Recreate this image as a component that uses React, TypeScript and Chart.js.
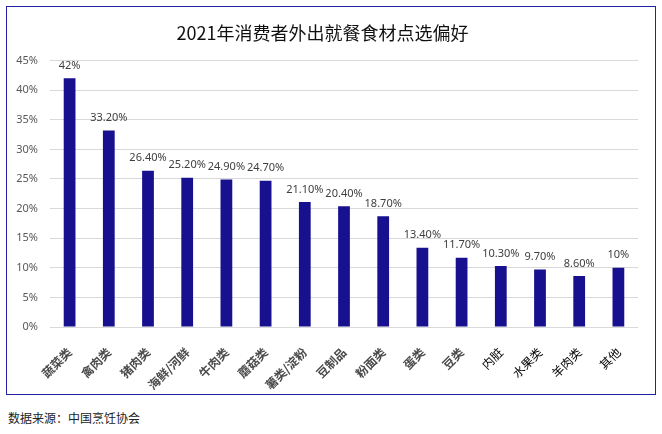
import { useEffect, useRef } from "react";
import { Chart, registerables, type ChartConfiguration } from "chart.js";

Chart.register(...registerables);

const TITLE = "2021年消费者外出就餐食材点选偏好";
const SOURCE = "数据来源：中国烹饪协会";

const CATEGORIES = [
  "蔬菜类",
  "禽肉类",
  "猪肉类",
  "海鲜/河鲜",
  "牛肉类",
  "蘑菇类",
  "薯类/淀粉",
  "豆制品",
  "粉面类",
  "蛋类",
  "豆类",
  "内脏",
  "水果类",
  "羊肉类",
  "其他",
];

// 百分比
const VALUES = [42, 33.2, 26.4, 25.2, 24.9, 24.7, 21.1, 20.4, 18.7, 13.4, 11.7, 10.3, 9.7, 8.6, 10];

const Y_MAX = 45;
const Y_STEP = 5;

const BAR_COLOR = "#17108f";
const CJK = '"Noto Sans CJK SC", "Noto Sans", sans-serif';

function fmt(v: number) {
  return Number.isInteger(v) ? `${v}%` : `${v.toFixed(2)}%`;
}

// 柱顶数值标签
const valueLabels = {
  id: "valueLabels",
  afterDatasetsDraw(chart: Chart) {
    const { ctx } = chart;
    const meta = chart.getDatasetMeta(0);
    ctx.save();
    ctx.font = '11px "Noto Sans", sans-serif';
    ctx.fillStyle = "#404040";
    ctx.textAlign = "center";
    ctx.textBaseline = "bottom";
    meta.data.forEach((bar: any, i: number) => {
      ctx.fillText(fmt(VALUES[i]), bar.x, bar.y - 7);
    });
    ctx.restore();
  },
};

function buildConfig(): ChartConfiguration<"bar"> {
  return {
    type: "bar",
    data: {
      labels: CATEGORIES,
      datasets: [
        {
          data: VALUES,
          backgroundColor: BAR_COLOR,
          barPercentage: 0.6,
          categoryPercentage: 0.5,
        },
      ],
    },
    options: {
      responsive: false,
      animation: false,
      layout: { padding: { left: 0, right: 16, top: 0, bottom: 0 } },
      plugins: {
        legend: { display: false },
        tooltip: { enabled: false },
        title: {
          display: true,
          text: TITLE,
          color: "#111111",
          font: { family: CJK, size: 18, weight: "normal" },
          padding: { top: 15, bottom: 17 },
        },
      },
      scales: {
        x: {
          grid: { display: false },
          border: { display: false },
          ticks: {
            minRotation: 45,
            maxRotation: 45,
            autoSkip: false,
            padding: 10,
            color: (c: any) => (c.index >= 11 ? "#000000" : "#4a4a4a"),
            font: (c: any) => ({
              family: CJK,
              size: 12,
              weight: c.index >= 11 ? "normal" : "bold",
            }),
          },
          afterFit: (s: any) => {
            s.height = 66;
          },
        },
        y: {
          min: 0,
          max: Y_MAX,
          grid: { color: "#d9d9d9", drawTicks: false },
          border: { display: false },
          ticks: {
            stepSize: Y_STEP,
            padding: 12,
            color: "#595959",
            font: { family: '"Noto Sans", sans-serif', size: 11 },
            callback: (v: any) => `${v}%`,
          },
          afterFit: (s: any) => {
            s.width = 43;
          },
        },
      },
    },
    plugins: [valueLabels],
  };
}

export default function App() {
  const canvasRef = useRef<HTMLCanvasElement>(null);

  useEffect(() => {
    const canvas = canvasRef.current;
    if (!canvas) return;
    const chart = new Chart(canvas, buildConfig());
    return () => chart.destroy();
  }, []);

  return (
    <div
      style={{
        position: "absolute",
        left: 0,
        top: 0,
        width: 662,
        height: 434,
        background: "#ffffff",
      }}
    >
      <div
        style={{
          position: "absolute",
          left: 6,
          top: 6,
          width: 650,
          height: 389,
          border: "1.5px solid #2222a6",
          boxSizing: "border-box",
        }}
      >
        <canvas ref={canvasRef} width={647} height={386} style={{ display: "block" }} />
      </div>
      <div
        style={{
          position: "absolute",
          left: 8,
          top: 409,
          fontFamily: CJK,
          fontSize: 12,
          color: "#222222",
        }}
      >
        {SOURCE}
      </div>
    </div>
  );
}
